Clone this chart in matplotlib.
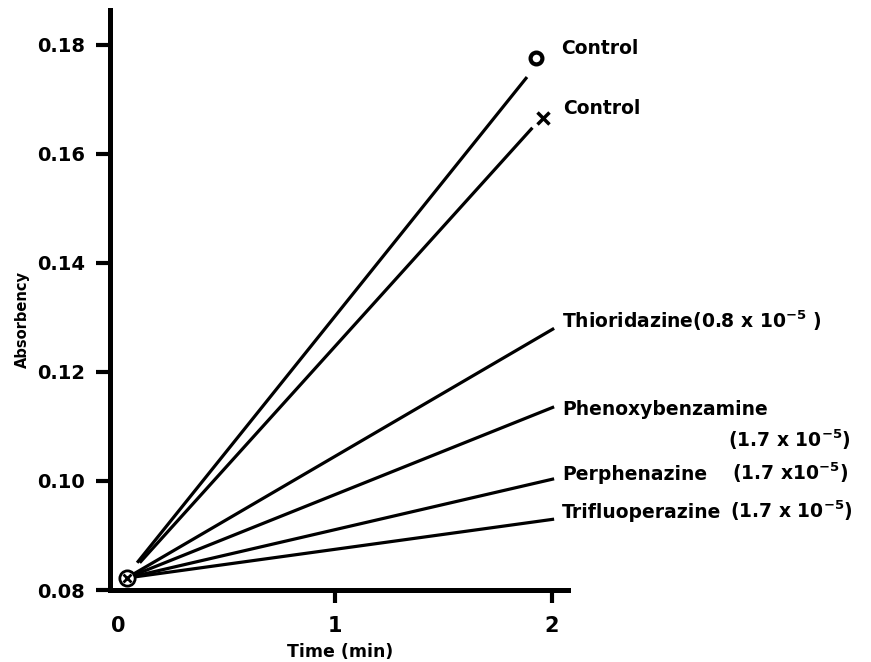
import numpy as np
import matplotlib.pyplot as plt

plt.rcParams['font.family'] = 'DejaVu Sans'
plt.rcParams['font.weight'] = 'bold'
plt.rcParams['mathtext.default'] = 'bf'

# common starting point (circled cross)
t0, a0 = 0.04, 0.0822

# line start / end points
t_start = [0.088, 0.100, 0.04, 0.04, 0.04, 0.04]
a_start = [0.0850, 0.0850, 0.0822, 0.0822, 0.0822, 0.0822]
t_end = [1.885, 1.91, 2.01, 2.01, 2.01, 2.01]
a_end = [0.1741, 0.1648, 0.128, 0.1136, 0.1004, 0.093]

# control end markers
ctrl_t = [1.926, 1.958]
ctrl_a = [0.1776, 0.1666]

yticks = [0.08, 0.10, 0.12, 0.14, 0.16, 0.18]
xticks = [0, 1, 2]

fig = plt.figure(figsize=(8.71, 6.62), dpi=100)
ax = fig.add_axes([110/871, 72/662, 458/871, 580/662])

for i in range(len(t_end)):
    ax.plot([t_start[i], t_end[i]], [a_start[i], a_end[i]], color='black', lw=2.3,
            solid_capstyle='butt', zorder=2)

ax.plot(ctrl_t[0], ctrl_a[0], marker='o', ms=8.5, mew=3, mfc='white', mec='black', zorder=3)
ax.plot(ctrl_t[1], ctrl_a[1], marker='x', ms=8, mew=2.5, color='black', zorder=3)

ax.plot(t0, a0, marker='o', ms=11, mew=2, mfc='white', mec='black', zorder=4, clip_on=False)
ax.plot(t0, a0, marker='x', ms=6, mew=2, color='black', zorder=5, clip_on=False)

# labels
fs = 13.5
ax.text(2.041, 0.1783, 'Control', fontsize=fs, va='baseline')
ax.text(2.051, 0.1673, 'Control', fontsize=fs, va='baseline')
ax.text(2.046, 0.1281, r'Thioridazine(0.8 x 10$^{-5}$ )', fontsize=fs, va='baseline')
ax.text(2.046, 0.1121, 'Phenoxybenzamine', fontsize=fs, va='baseline')
ax.text(2.81, 0.1062, r'(1.7 x 10$^{-5}$)', fontsize=fs, va='baseline')
ax.text(2.046, 0.1002, 'Perphenazine', fontsize=fs, va='baseline')
ax.text(2.83, 0.1002, r'(1.7 x10$^{-5}$)', fontsize=fs, va='baseline')
ax.text(2.046, 0.0932, 'Trifluoperazine', fontsize=fs, va='baseline')
ax.text(2.82, 0.0932, r'(1.7 x 10$^{-5}$)', fontsize=fs, va='baseline')

ax.set_xlim(-0.037, 2.074)
ax.set_ylim(0.08, 0.1864)

ax.spines['top'].set_visible(False)
ax.spines['right'].set_visible(False)
ax.spines['left'].set_linewidth(3.6)
ax.spines['bottom'].set_linewidth(3.6)

ax.set_yticks(yticks)
ax.set_yticklabels(['%.2f' % v for v in yticks])
ax.set_xticks(xticks)
ax.set_xticklabels([str(v) for v in xticks])
ax.tick_params(axis='y', length=10, width=3, labelsize=14, pad=8)
ax.tick_params(axis='x', length=9, width=3, labelsize=15, pad=10)
ax.xaxis.get_major_ticks()[0].tick1line.set_visible(False)

ax.set_xlabel('Time (min)', fontsize=12.5, fontweight='bold')
ax.xaxis.set_label_coords(0.502, -0.092)
ax.set_ylabel('Absorbency', fontsize=10.5, fontweight='bold', va='center')
ax.yaxis.set_label_coords(-0.191, 0.466)

fig.savefig('out.png', dpi=100)
